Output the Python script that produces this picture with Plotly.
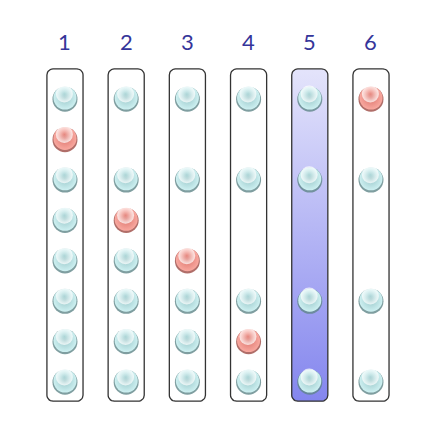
import numpy as np
import plotly.graph_objects as go

# Column labels and which rows of each column hold a ball
labels = ['1', '2', '3', '4', '5', '6']
col_rows = [
    [0, 1, 2, 3, 4, 5, 6, 7],
    [0, 2, 3, 4, 5, 6, 7],
    [0, 2, 4, 5, 6, 7],
    [0, 2, 5, 6, 7],
    [0, 2, 5, 7],
    [0, 2, 5, 7],
]
# Row of the red ball in each column (None = no red ball)
red_rows = [1, 3, 4, 6, None, 0]
# Column that is highlighted with the blue gradient
highlight_col = 5

BOX_HALF_W = 0.295
BOX_TOP = -0.72
BOX_BOTTOM = 7.5
RX, RY = 0.1, 0.15


def rounded_box(cx):
    '''Outline of a rounded rectangle centred on column cx.'''
    x0, x1 = cx - BOX_HALF_W, cx + BOX_HALF_W
    y0, y1 = BOX_TOP, BOX_BOTTOM
    xs, ys = [], []
    corners = [
        (x1 - RX, y0 + RY, -np.pi / 2, 0),
        (x1 - RX, y1 - RY, 0, np.pi / 2),
        (x0 + RX, y1 - RY, np.pi / 2, np.pi),
        (x0 + RX, y0 + RY, np.pi, 3 * np.pi / 2),
    ]
    for ccx, ccy, a0, a1 in corners:
        t = np.linspace(a0, a1, 8)
        xs.extend(ccx + RX * np.cos(t))
        ys.extend(ccy + RY * np.sin(t))
    xs.append(xs[0])
    ys.append(ys[0])
    return xs, ys


fig = go.Figure()

# Boxes
for i, lab in enumerate(labels):
    col = i + 1
    xs, ys = rounded_box(col)
    trace = dict(x=xs, y=ys, mode='lines', fill='toself',
                 line=dict(color='#333333', width=1.3),
                 hoverinfo='skip', showlegend=False)
    if col == highlight_col:
        trace['fillgradient'] = dict(
            type='vertical', start=BOX_TOP, stop=BOX_BOTTOM,
            colorscale=[[0, '#e4e4fb'], [1, '#8486ee']])
    else:
        trace['fillcolor'] = 'white'
    fig.add_trace(go.Scatter(**trace))

# Balls
cyan_x, cyan_y, red_x, red_y = [], [], [], []
for i, rows in enumerate(col_rows):
    for r in rows:
        if r == red_rows[i]:
            red_x.append(i + 1)
            red_y.append(r)
        else:
            cyan_x.append(i + 1)
            cyan_y.append(r)

for xs, ys, center, edge, shadow in [
    (cyan_x, cyan_y, '#cdf0f1', '#9cc8ca', '#5f8688'),
    (red_x, red_y, '#f9a89f', '#dc776f', '#9c4a44'),
]:
    # darker lower rim
    fig.add_trace(go.Scatter(
        x=xs, y=[y + 0.03 for y in ys], mode='markers', hoverinfo='skip',
        showlegend=False,
        marker=dict(size=25, color=shadow, opacity=0.8, line=dict(width=0))))
    fig.add_trace(go.Scatter(
        x=xs, y=ys, mode='markers', hoverinfo='skip', showlegend=False,
        marker=dict(size=23, color=center,
                    gradient=dict(type='radial', color=edge),
                    line=dict(width=0))))
    # glossy highlight
    fig.add_trace(go.Scatter(
        x=[x - 0.01 for x in xs], y=[y - 0.1 for y in ys],
        mode='markers', hoverinfo='skip', showlegend=False,
        marker=dict(size=17, color='rgba(255,255,255,0.75)',
                    gradient=dict(type='radial', color='rgba(255,255,255,0)'),
                    line=dict(width=0))))

# Column labels
for i, lab in enumerate(labels):
    fig.add_annotation(x=i + 1, y=-1.4, text=lab, showarrow=False,
                       font=dict(family='Lato', size=22, color='#35359a'))

fig.update_layout(
    width=430, height=437,
    margin=dict(l=0, r=0, t=0, b=0),
    paper_bgcolor='white', plot_bgcolor='white',
    xaxis=dict(range=[0.069, 7.095], visible=False, fixedrange=True),
    yaxis=dict(range=[8.583, -2.226], visible=False, fixedrange=True),
)

fig.write_html("out.html")
